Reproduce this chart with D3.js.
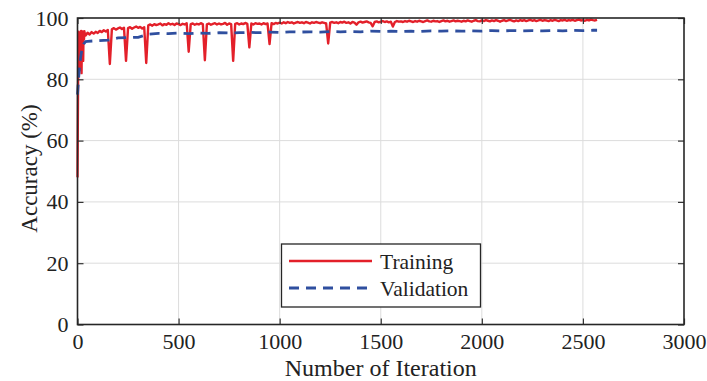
<!DOCTYPE html>
<html>
<head>
<meta charset="utf-8">
<script src="https://cdn.jsdelivr.net/npm/d3@7"></script>
<style>
  body { margin: 0; background: #fff; }
  svg text { font-family: "Liberation Serif", "Times New Roman", Times, "DejaVu Serif", serif; fill: #222; }
</style>
</head>
<body>
<svg id="chart"></svg>
<script>
// training accuracy, logged every 2 iterations at the start, then every 10
var trainEarlyIter = [0, 2, 4, 6, 8, 10, 12, 14, 16, 18, 20, 22, 24, 26, 28, 30, 32, 34, 36, 38];
var trainEarlyAcc = [48, 70, 92, 95.5, 89, 94, 83, 95, 90, 95.8, 82, 94.5, 91, 95.6, 86, 95.2, 93, 95.7, 94.2, 95.0];
var trainStep = 10;
var trainStart = 40;
var trainAcc = [
  94.3, 95.2, 94.6, 95.4, 94.9, 95.5,
  95.1, 95.8, 95.4, 96.0, 95.6, 96.1, 85.0, 96.3, 96.7, 96.2,
  96.6, 96.9, 96.4, 96.8, 86.0, 96.7, 97.0, 96.5, 96.9, 97.2,
  96.8, 97.1, 96.6, 97.0, 85.3, 97.6, 97.9, 97.5, 98.0, 97.7,
  97.9, 98.2, 97.6, 98.0, 97.8, 98.3, 97.9, 98.1, 97.7, 98.2,
  98.0, 97.7, 98.1, 97.9, 98.3, 89.0, 98.0, 98.2, 97.8, 98.1,
  97.9, 98.3, 98.0, 86.2, 97.9, 98.2, 97.8, 98.1, 98.3, 97.9,
  98.2, 97.9, 98.1, 98.4, 97.8, 98.2, 98.0, 86.0, 98.1, 98.3,
  97.9, 98.2, 98.0, 98.4, 98.1, 90.4, 98.2, 97.9, 98.3, 98.1,
  98.2, 97.9, 98.3, 98.0, 98.2, 91.5, 98.3, 98.0, 98.4, 98.2,
  98.5, 98.2, 98.6, 98.3, 98.7, 98.4, 98.6, 98.2, 98.5, 98.7,
  98.4, 98.6, 98.3, 98.7, 98.5, 98.2, 98.6, 98.4, 98.7, 98.5,
  98.3, 98.6, 98.4, 98.2, 91.7, 98.5, 98.7, 98.4, 98.6, 98.3,
  98.7, 98.5, 98.8, 98.4, 98.6, 98.2, 98.7, 98.5, 97.8, 98.6,
  98.8, 98.5, 98.7, 98.9, 98.6, 98.4, 97.3, 98.7, 98.9, 98.6,
  98.8, 99.0, 98.7, 98.9, 98.6, 98.8, 97.2, 98.7, 99.0, 98.8,
  98.9, 98.7, 99.0, 98.8, 99.1, 98.9, 98.7, 99.0, 98.8, 99.1,
  98.9, 98.7, 99.0, 99.2, 98.9, 98.8, 99.1, 98.9, 99.0, 98.7,
  99.0, 99.2, 98.9, 99.1, 98.8, 99.0, 99.2, 98.9, 99.1, 99.0,
  98.8, 99.1, 98.9, 99.2, 99.0, 98.8, 99.1, 99.3, 99.0, 98.9,
  99.2, 99.0, 99.3, 99.1, 98.9, 99.2, 99.0, 99.3, 99.1, 98.8,
  99.1, 99.3, 99.0, 99.2, 99.4, 99.1, 98.9, 99.2, 99.0, 99.3,
  99.1, 99.3, 99.0, 99.2, 99.4, 99.1, 99.3, 99.0, 99.2, 99.4,
  99.1, 99.3, 99.2, 99.0, 99.3, 99.1, 99.4, 99.2, 99.0, 99.3,
  99.2, 99.4, 99.1, 99.3, 99.2, 99.4, 99.1, 99.3, 99.5, 99.2,
  99.3, 99.1, 99.4, 99.2, 99.5, 99.3, 99.2, 99.4
];

var valIter = [0, 5, 10, 15, 20, 30, 40, 50, 100, 150, 200, 250, 300, 350, 400, 450,
  500, 550, 600, 650, 700, 750, 800, 850, 900, 950, 1000, 1050, 1100, 1150, 1200,
  1250, 1300, 1350, 1400, 1450, 1500, 1550, 1600, 1650, 1700, 1750, 1800, 1850,
  1900, 1950, 2000, 2050, 2100, 2150, 2200, 2250, 2300, 2350, 2400, 2450, 2500, 2550, 2570];
var valAcc = [75, 80, 84, 87, 89, 91.5, 92.3, 92.4, 92.6, 92.8, 93.5, 93.6, 93.7, 94.7, 95.0, 94.9,
  95.1, 94.9, 95.1, 95.0, 95.2, 95.1, 95.2, 95.3, 95.2, 95.4, 95.3, 95.5, 95.4, 95.5, 95.4,
  95.6, 95.5, 95.6, 95.5, 95.7, 95.6, 95.7, 95.6, 95.7, 95.6, 95.8, 95.7, 95.8,
  95.7, 95.8, 95.7, 95.9, 95.8, 95.9, 95.8, 95.9, 95.8, 95.9, 95.8, 96.0, 95.9, 96.0, 96.0];

var xTicks = [0, 500, 1000, 1500, 2000, 2500, 3000];
var yTicks = [0, 20, 40, 60, 80, 100];
var seriesNames = ["Training", "Validation"];

var width = 707, height = 381;
var margins = {top: 18, right: 23, bottom: 56.5, left: 77.5};
var serif = "'Liberation Serif', 'Times New Roman', Times, 'DejaVu Serif', serif";

var svg = d3.select("#chart").attr("width", width).attr("height", height);

var x = d3.scaleLinear().domain([0, 3000]).range([margins.left, width - margins.right]);
var y = d3.scaleLinear().domain([0, 100]).range([height - margins.bottom, margins.top]);

// grid
svg.append("g").selectAll("line").data(xTicks.slice(1, -1)).enter().append("line")
  .attr("x1", function(d){ return x(d); }).attr("x2", function(d){ return x(d); })
  .attr("y1", y(0)).attr("y2", y(100))
  .attr("stroke", "#dcdcdc").attr("stroke-width", 1);
svg.append("g").selectAll("line").data(yTicks.slice(1, -1)).enter().append("line")
  .attr("x1", x(0)).attr("x2", x(3000))
  .attr("y1", function(d){ return y(d); }).attr("y2", function(d){ return y(d); })
  .attr("stroke", "#dcdcdc").attr("stroke-width", 1);

// build point lists
var trainPts = trainEarlyIter.map(function(it, i){ return [it, trainEarlyAcc[i]]; });
trainAcc.forEach(function(v, i){ trainPts.push([trainStart + i * trainStep, v]); });
var valPts = valIter.map(function(it, i){ return [it, valAcc[i]]; });

var line = d3.line().x(function(d){ return x(d[0]); }).y(function(d){ return y(d[1]); });

svg.append("path").datum(trainPts)
  .attr("d", line).attr("fill", "none")
  .attr("stroke", "#e3202a").attr("stroke-width", 2.4).attr("stroke-linejoin", "round");

svg.append("path").datum(valPts)
  .attr("d", line).attr("fill", "none")
  .attr("stroke", "#2f4f9f").attr("stroke-width", 2.8).attr("stroke-dasharray", "10,7");

// axes, inward ticks on all four sides
var fmt = d3.format("d");
var axB = d3.axisBottom(x).tickValues(xTicks).tickFormat(fmt).tickSizeInner(-6).tickSizeOuter(0).tickPadding(9);
var axT = d3.axisTop(x).tickValues(xTicks).tickSizeInner(-6).tickSizeOuter(0).tickFormat("");
var axL = d3.axisLeft(y).tickValues(yTicks).tickFormat(fmt).tickSizeInner(-6).tickSizeOuter(0).tickPadding(9);
var axR = d3.axisRight(y).tickValues(yTicks).tickSizeInner(-6).tickSizeOuter(0).tickFormat("");

function styleAxis(g){
  g.attr("font-family", serif).attr("font-size", 22);
  g.select(".domain").remove();
  g.selectAll("line").attr("stroke", "#333").attr("stroke-width", 1.2);
  g.selectAll("text").attr("fill", "#222");
}

svg.append("g").attr("transform", "translate(0," + y(0) + ")").call(axB).call(styleAxis);
svg.append("g").attr("transform", "translate(0," + y(100) + ")").call(axT).call(styleAxis);
svg.append("g").attr("transform", "translate(" + x(0) + ",0)").call(axL).call(styleAxis);
svg.append("g").attr("transform", "translate(" + x(3000) + ",0)").call(axR).call(styleAxis);

svg.append("rect")
  .attr("x", x(0)).attr("y", y(100))
  .attr("width", x(3000) - x(0)).attr("height", y(0) - y(100))
  .attr("fill", "none").attr("stroke", "#262626").attr("stroke-width", 1.6);

// axis titles
svg.append("text")
  .attr("x", (x(0) + x(3000)) / 2).attr("y", 376)
  .attr("text-anchor", "middle").attr("font-size", 24).attr("font-family", serif)
  .text("Number of Iteration");

svg.append("text")
  .attr("transform", "translate(37,168.5) rotate(-90)")
  .attr("text-anchor", "middle").attr("font-size", 23).attr("font-family", serif)
  .text("Accuracy (%)");

// legend
var legend = svg.append("g");
legend.append("rect")
  .attr("x", 281.5).attr("y", 244).attr("width", 199).attr("height", 63)
  .attr("fill", "#fff").attr("stroke", "#262626").attr("stroke-width", 1.3);
legend.append("line")
  .attr("x1", 289).attr("x2", 372).attr("y1", 261).attr("y2", 261)
  .attr("stroke", "#e3202a").attr("stroke-width", 2.4);
legend.append("line")
  .attr("x1", 289).attr("x2", 372).attr("y1", 288).attr("y2", 288)
  .attr("stroke", "#2f4f9f").attr("stroke-width", 2.8).attr("stroke-dasharray", "10,7");
legend.selectAll("text.lg").data(seriesNames).enter().append("text")
  .attr("class", "lg")
  .attr("x", 380).attr("y", function(d, i){ return 261 + i * 27; })
  .attr("dy", "0.35em").attr("font-size", 21.5).attr("font-family", serif)
  .text(function(d){ return d; });
</script>
</body>
</html>
